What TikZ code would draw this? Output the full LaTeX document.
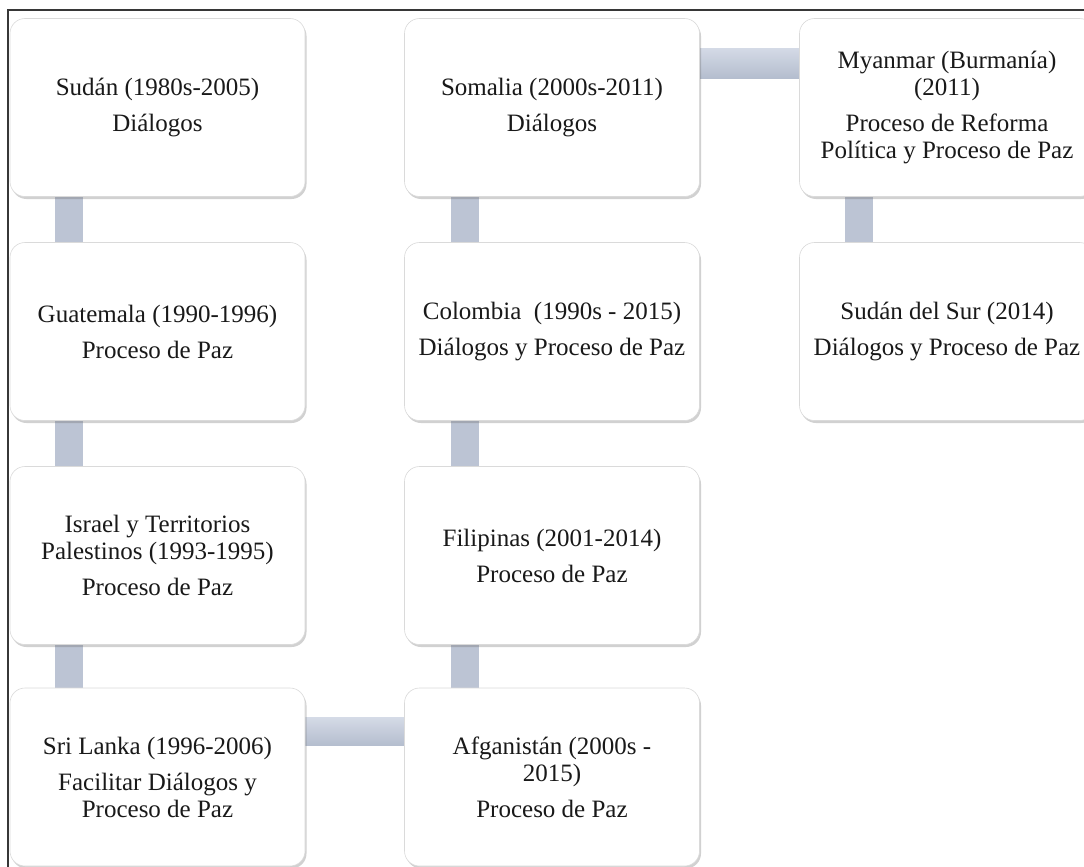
\documentclass[tikz,border=0pt]{standalone}
\usepackage{fontspec}
\setmainfont{Liberation Serif}
\usetikzlibrary{calc,shadows,backgrounds}
\definecolor{barcol}{RGB}{188,196,212}
\definecolor{barlight}{RGB}{212,218,230}
\definecolor{bardark}{RGB}{180,189,206}
\definecolor{boxline}{RGB}{218,218,218}
\definecolor{txt}{RGB}{25,25,25}
\definecolor{framecol}{RGB}{55,55,55}
\tikzset{
  card/.style={draw=boxline, line width=0.6pt, fill=white, rounded corners=15pt,
    minimum width=295pt, minimum height=178pt, inner sep=0pt, align=center,
    text=txt, font=\fontsize{25}{27}\selectfont,
    drop shadow={shadow xshift=1.5pt, shadow yshift=-2.5pt, opacity=0.3, fill=black!60}},
  vbar/.style={line width=28pt, draw=barcol},
  hbar/.style={top color=barlight, bottom color=bardark, draw=none},
}
\begin{document}
\begin{tikzpicture}[x=1pt,y=1pt]
\useasboundingbox (0,0) rectangle (1084,-867);
\clip (0,0) rectangle (1084,-867);
\draw[framecol, line width=2pt] (8,-900) -- (8,-10) -- (1120,-10);
% column 1
\node[card] (sudan) at (157.5,-107.5) {Sudán (1980s-2005)\\[9pt] Diálogos};
\node[card] (guat) at (157.5,-331.5) {Guatemala (1990-1996)\\[9pt] Proceso de Paz};
\node[card] (isr) at (157.5,-555.5) {Israel y Territorios\\ Palestinos (1993-1995)\\[9pt] Proceso de Paz};
\node[card] (sri) at (157.5,-777) {Sri Lanka (1996-2006)\\[9pt] Facilitar Diálogos y\\ Proceso de Paz};
% column 2
\node[card] (som) at (552,-107.5) {Somalia (2000s-2011)\\[9pt] Diálogos};
\node[card] (col) at (552,-331.5) {Colombia\ \ (1990s - 2015)\\[9pt] Diálogos y Proceso de Paz};
\node[card] (fil) at (552,-555.5) {Filipinas (2001-2014)\\[9pt] Proceso de Paz};
\node[card] (afg) at (552,-777) {Afganistán (2000s -\\ 2015)\\[9pt] Proceso de Paz};
% column 3
\node[card] (mya) at (947,-107.5) {Myanmar (Burmanía)\\ (2011)\\[9pt] Proceso de Reforma\\ Política y Proceso de Paz};
\node[card] (ssur) at (947,-331.5) {Sudán del Sur (2014)\\[9pt] Diálogos y Proceso de Paz};
\begin{scope}[on background layer]
  \draw[vbar] ($(sudan.south west)+(59,0)$) -- ($(guat.north west)+(59,0)$);
  \draw[vbar] ($(guat.south west)+(59,0)$) -- ($(isr.north west)+(59,0)$);
  \draw[vbar] ($(isr.south west)+(59,0)$) -- ($(sri.north west)+(59,0)$);
  \draw[vbar] ($(som.south west)+(61,0)$) -- ($(col.north west)+(61,0)$);
  \draw[vbar] ($(col.south west)+(61,0)$) -- ($(fil.north west)+(61,0)$);
  \draw[vbar] ($(fil.south west)+(61,0)$) -- ($(afg.north west)+(61,0)$);
  \draw[vbar] ($(mya.south west)+(60,0)$) -- ($(ssur.north west)+(60,0)$);
  \path[hbar] ($(som.north east)+(-2,-30)$) rectangle ($(mya.north west)+(2,-60)$);
  \path[hbar] ($(sri.north east)+(-2,-30)$) rectangle ($(afg.north west)+(2,-58)$);
\end{scope}
\end{tikzpicture}
\end{document}
